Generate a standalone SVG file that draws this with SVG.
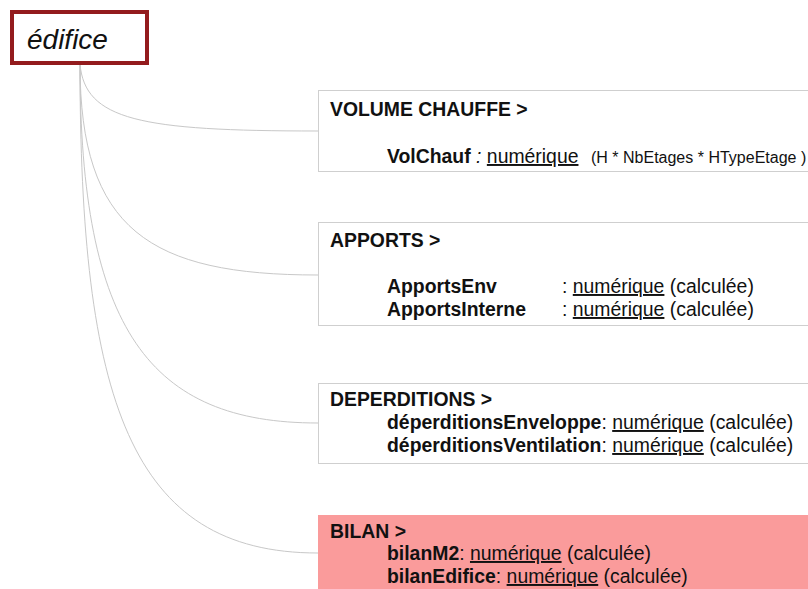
<svg xmlns="http://www.w3.org/2000/svg" width="808" height="589" viewBox="0 0 808 589">
<style>
text{font-family:"Liberation Sans",Arial,sans-serif;fill:#111;font-size:19.4px}
.b{font-weight:bold}
.u{text-decoration:underline}
.s{font-size:16px}
.box{fill:#fff;stroke:#cfcfcf;stroke-width:1}
.conn{fill:none;stroke:#c8c8c8;stroke-width:1}
</style>
<rect width="808" height="589" fill="#fff"/>
<g id="connectors">
<path class="conn" d="M80,64 C85,120 140,131 318,131"/>
<path class="conn" d="M80,64 C80,230 150,275 318,275"/>
<path class="conn" d="M80,64 C80,330 150,423 318,423"/>
<path class="conn" d="M80,64 C80,400 130,553 318,553"/>
</g>
<g id="edifice">
<rect x="12" y="12" width="135" height="51" fill="#fff" stroke="#931b1d" stroke-width="4"/>
<text x="27" y="49" font-style="italic" style="font-size:28px">édifice</text>
</g>
<g id="volume">
<rect class="box" x="318.5" y="90.5" width="500" height="81"/>
<text x="330" y="116" class="b">VOLUME CHAUFFE &gt;</text>
<text x="387" y="163"><tspan class="b">VolChauf</tspan><tspan font-style="italic"> : </tspan><tspan class="u">numérique</tspan><tspan class="s" x="591">(H * NbEtages * HTypeEtage )</tspan></text>
</g>
<g id="apports">
<rect class="box" x="318.5" y="222.5" width="500" height="103"/>
<text x="330" y="247" class="b">APPORTS &gt;</text>
<text x="387" y="293" class="b">ApportsEnv</text>
<text x="562" y="293">: <tspan class="u">numérique</tspan> (calculée)</text>
<text x="387" y="316" class="b">ApportsInterne</text>
<text x="562" y="316">: <tspan class="u">numérique</tspan> (calculée)</text>
</g>
<g id="deperditions">
<rect class="box" x="318.5" y="383.5" width="500" height="80"/>
<text x="330" y="406" class="b">DEPERDITIONS &gt;</text>
<text x="387" y="429"><tspan class="b">déperditionsEnveloppe</tspan>: <tspan class="u">numérique</tspan> (calculée)</text>
<text x="387" y="452"><tspan class="b">déperditionsVentilation</tspan>: <tspan class="u">numérique</tspan> (calculée)</text>
</g>
<g id="bilan">
<rect x="318" y="515" width="500" height="80" fill="#fa9b9b"/>
<text x="330" y="538" class="b">BILAN &gt;</text>
<text x="387" y="560"><tspan class="b">bilanM2</tspan>: <tspan class="u">numérique</tspan> (calculée)</text>
<text x="387" y="583"><tspan class="b">bilanEdifice</tspan>: <tspan class="u">numérique</tspan> (calculée)</text>
</g>
</svg>
